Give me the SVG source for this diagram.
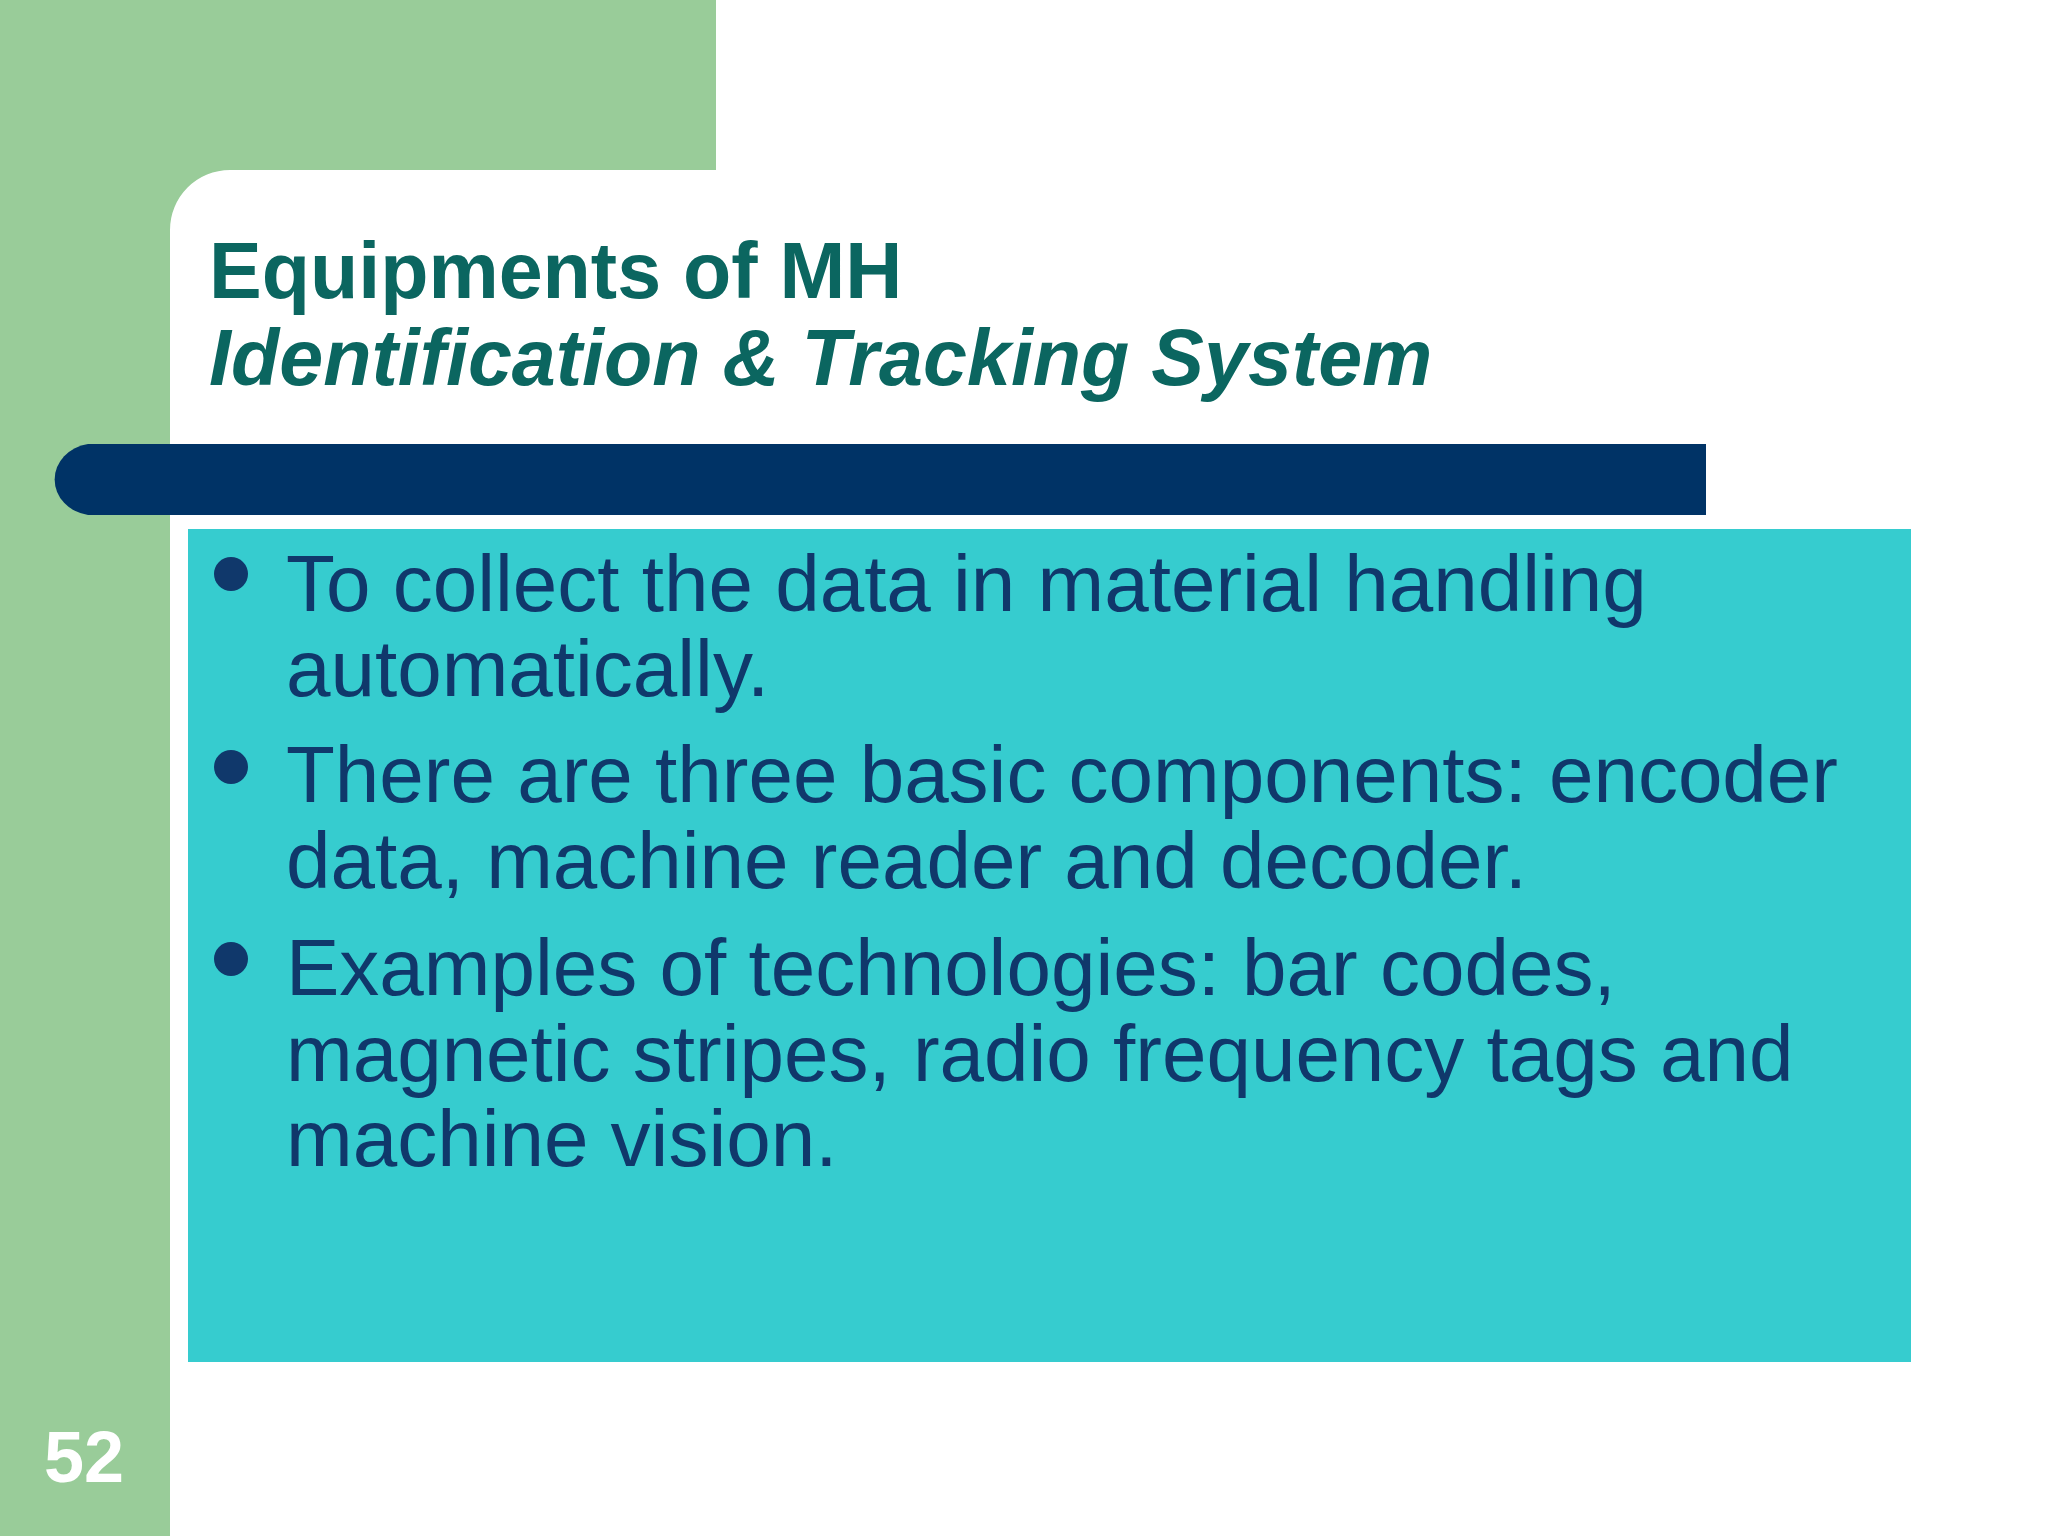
<svg xmlns="http://www.w3.org/2000/svg" width="2048" height="1536" viewBox="0 0 2048 1536">
<style>
.t{font-family:"Liberation Sans",Arial,sans-serif;font-weight:bold;fill:#0b6660;font-size:79px}
.b{font-family:"Liberation Sans",Arial,sans-serif;fill:#10386b;font-size:80px}
</style>
<rect width="2048" height="1536" fill="#ffffff"/>
<g id="bg">
<rect x="0" y="0" width="170" height="1536" fill="#99cc99"/>
<rect x="0" y="0" width="716" height="170" fill="#99cc99"/>
<path d="M170 170 h60 a60 60 0 0 0 -60 60 z" fill="#99cc99"/>
</g>
<g id="title">
<text class="t" x="209" y="298">Equipments of MH</text>
<text class="t" x="209" y="385" font-style="italic">Identification &amp; Tracking System</text>
</g>
<g id="bar"><path d="M88 444 H1706 V515 H88 A40 36 0 0 1 88 444 Z" fill="#003366"/></g>
<g id="content">
<rect x="188" y="529" width="1723" height="833" fill="#36cccf"/>
<circle cx="231" cy="574" r="17" fill="#10386b"/>
<circle cx="231" cy="767" r="17" fill="#10386b"/>
<circle cx="231" cy="959" r="17" fill="#10386b"/>
<text class="b" x="286" y="611">To collect the data in material handling</text>
<text class="b" x="286" y="696">automatically.</text>
<text class="b" x="286" y="802">There are three basic components: encoder</text>
<text class="b" x="286" y="888">data, machine reader and decoder.</text>
<text class="b" x="286" y="995">Examples of technologies: bar codes,</text>
<text class="b" x="286" y="1081">magnetic stripes, radio frequency tags and</text>
<text class="b" x="286" y="1166">machine vision.</text>
</g>
<g id="page"><text x="44" y="1482" font-family="Liberation Sans,Arial,sans-serif" font-weight="bold" font-size="72" fill="#ffffff">52</text></g>
</svg>
